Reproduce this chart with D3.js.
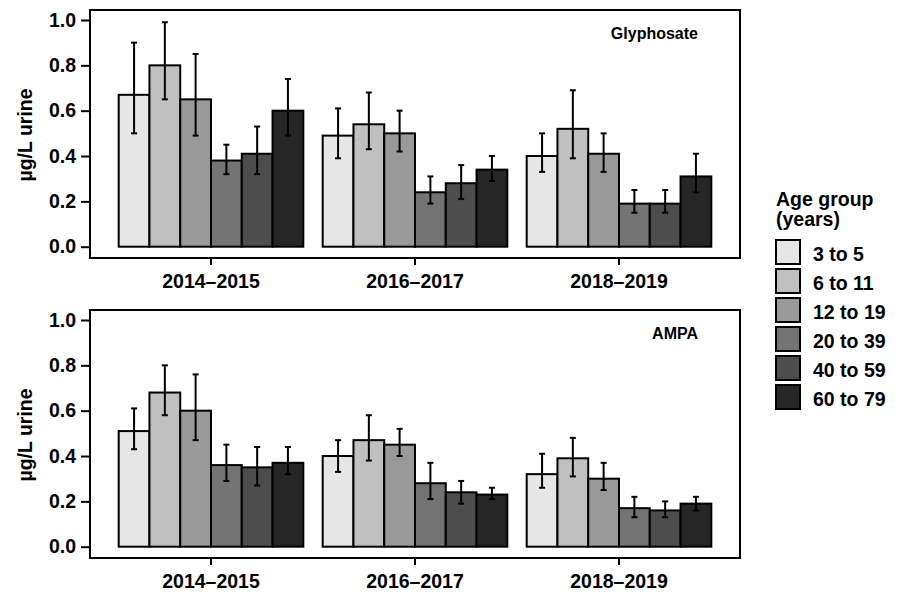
<!DOCTYPE html>
<html>
<head>
<meta charset="utf-8">
<script src="https://cdn.jsdelivr.net/npm/d3@7"></script>
<style>
  body { margin: 0; background: #fff; }
  text { font-family: "Liberation Sans", Arial, sans-serif; font-weight: bold; fill: #000; }
</style>
</head>
<body>
<script>
var periods = ['2014\u20132015', '2016\u20132017', '2018\u20132019'];
var ageGroups = ['3 to 5', '6 to 11', '12 to 19', '20 to 39', '40 to 59', '60 to 79'];
var greys = ['#e6e6e6', '#c0c0c0', '#999999', '#737373', '#4d4d4d', '#262626'];
var yTicks = [0, 0.2, 0.4, 0.6, 0.8, 1.0];

// one row per period, one value per age group
var glyMean = [[0.67, 0.80, 0.65, 0.38, 0.41, 0.60],
               [0.49, 0.54, 0.50, 0.24, 0.28, 0.34],
               [0.40, 0.52, 0.41, 0.19, 0.19, 0.31]];
var glyLow  = [[0.50, 0.65, 0.49, 0.32, 0.32, 0.49],
               [0.39, 0.43, 0.42, 0.19, 0.21, 0.29],
               [0.33, 0.39, 0.33, 0.15, 0.15, 0.24]];
var glyHigh = [[0.90, 0.99, 0.85, 0.45, 0.53, 0.74],
               [0.61, 0.68, 0.60, 0.31, 0.36, 0.40],
               [0.50, 0.69, 0.50, 0.25, 0.25, 0.41]];

var ampaMean = [[0.51, 0.68, 0.60, 0.36, 0.35, 0.37],
                [0.40, 0.47, 0.45, 0.28, 0.24, 0.23],
                [0.32, 0.39, 0.30, 0.17, 0.16, 0.19]];
var ampaLow  = [[0.43, 0.58, 0.47, 0.29, 0.27, 0.32],
                [0.33, 0.38, 0.40, 0.21, 0.19, 0.21],
                [0.26, 0.31, 0.25, 0.13, 0.13, 0.16]];
var ampaHigh = [[0.61, 0.80, 0.76, 0.45, 0.44, 0.44],
                [0.47, 0.58, 0.52, 0.37, 0.29, 0.26],
                [0.41, 0.48, 0.37, 0.22, 0.20, 0.22]];

var width = 900, height = 600;
var boxLeft = 90, boxRight = 740;
var fontSize = '19.5px';

var svg = d3.select('body').append('svg')
  .attr('width', width)
  .attr('height', height);

var x0 = d3.scaleBand()
  .domain(periods)
  .range([109, 721])
  .paddingInner(0.095)
  .paddingOuter(0.0475);

var x1 = d3.scaleBand()
  .domain(ageGroups)
  .range([0, x0.bandwidth()]);

var drawPanel = function(top, title, mean, low, high) {
  var boxTop = top, boxBottom = top + 248;
  var y = d3.scaleLinear().domain([0, 1]).range([top + 236.7, top + 10]);
  var g = svg.append('g');

  // bars
  periods.forEach(function(p, i) {
    var grp = g.append('g').attr('transform', 'translate(' + x0(p) + ',0)');
    grp.selectAll('rect')
      .data(ageGroups)
      .enter().append('rect')
      .attr('x', function(d) { return x1(d); })
      .attr('y', function(d, j) { return y(mean[i][j]); })
      .attr('width', x1.bandwidth())
      .attr('height', function(d, j) { return y(0) - y(mean[i][j]); })
      .style('fill', function(d, j) { return greys[j]; })
      .style('stroke', '#000')
      .style('stroke-width', 2);

    ageGroups.forEach(function(a, j) {
      var cx = x1(a) + x1.bandwidth() / 2;
      grp.append('line')
        .attr('x1', cx).attr('x2', cx)
        .attr('y1', y(low[i][j])).attr('y2', y(high[i][j]))
        .style('stroke', '#000').style('stroke-width', 2);
      [low[i][j], high[i][j]].forEach(function(v) {
        grp.append('line')
          .attr('x1', cx - 3).attr('x2', cx + 3)
          .attr('y1', y(v)).attr('y2', y(v))
          .style('stroke', '#000').style('stroke-width', 2);
      });
    });
  });

  // frame
  g.append('rect')
    .attr('x', boxLeft).attr('y', boxTop)
    .attr('width', boxRight - boxLeft).attr('height', boxBottom - boxTop)
    .style('fill', 'none').style('stroke', '#000').style('stroke-width', 2);

  // y axis
  var yAxis = d3.axisLeft(y).tickValues(yTicks).tickFormat(d3.format('.1f')).tickSize(9).tickPadding(5);
  var ya = g.append('g').attr('transform', 'translate(' + boxLeft + ',0)').call(yAxis);
  ya.select('.domain').remove();
  ya.selectAll('line').style('stroke', '#000').style('stroke-width', 2);
  ya.selectAll('text').style('font-size', fontSize).style('font-family', '"Liberation Sans", Arial, sans-serif').style('font-weight', 'bold');

  // x axis
  var xAxis = d3.axisBottom(x0).tickSize(7).tickPadding(9);
  var xa = g.append('g').attr('transform', 'translate(0,' + boxBottom + ')').call(xAxis);
  xa.select('.domain').remove();
  xa.selectAll('line').style('stroke', '#000').style('stroke-width', 2);
  xa.selectAll('text').style('font-size', fontSize).style('font-family', '"Liberation Sans", Arial, sans-serif').style('font-weight', 'bold');

  // y title
  g.append('text')
    .attr('transform', 'translate(32,' + (top + 125) + ') rotate(-90)')
    .attr('text-anchor', 'middle')
    .style('font-size', fontSize)
    .text('\u00b5g/L urine');

  // panel label
  g.append('text')
    .attr('x', 698).attr('y', top + 29)
    .attr('text-anchor', 'end')
    .style('font-size', '16px')
    .text(title);
};

drawPanel(10, 'Glyphosate', glyMean, glyLow, glyHigh);
drawPanel(310, 'AMPA', ampaMean, ampaLow, ampaHigh);

// legend
var legend = svg.append('g').attr('transform', 'translate(776,0)');
legend.append('text').attr('x', 0).attr('y', 206).style('font-size', fontSize).text('Age group');
legend.append('text').attr('x', 0).attr('y', 226).style('font-size', fontSize).text('(years)');
var item = legend.selectAll('g.item')
  .data(ageGroups)
  .enter().append('g')
  .attr('class', 'item')
  .attr('transform', function(d, i) { return 'translate(0,' + (240 + i * 29) + ')'; });
item.append('rect')
  .attr('width', 24).attr('height', 24)
  .style('fill', function(d, i) { return greys[i]; })
  .style('stroke', '#000').style('stroke-width', 2);
item.append('text')
  .attr('x', 37).attr('y', 21)
  .style('font-size', fontSize)
  .text(function(d) { return d; });
</script>
</body>
</html>
